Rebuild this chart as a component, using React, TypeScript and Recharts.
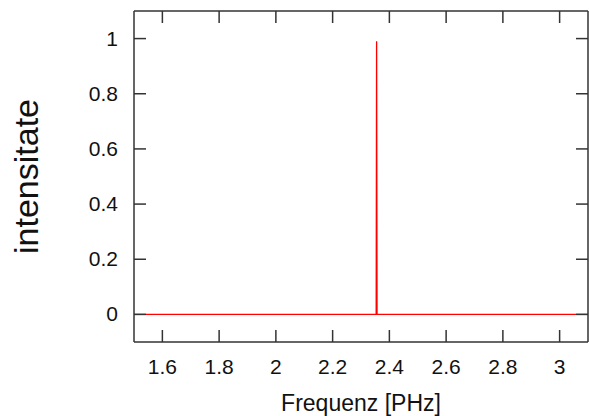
import React from "react";
import { LineChart, Line, XAxis, YAxis } from "recharts";

const frequency = [1.5, 2.3535, 2.355, 2.3565, 3.1];
const intensity = [0, 0, 0.99, 0, 0];
const xTicks = [1.6, 1.8, 2, 2.2, 2.4, 2.6, 2.8, 3];
const yTicks = [0, 0.2, 0.4, 0.6, 0.8, 1];

const data = frequency.map((f, i) => ({ f, v: intensity[i] }));

const FONT = "'Liberation Sans', Arial, Helvetica, sans-serif";
const AXIS = "#333333";
const TL = 12;

const bottomLabel = (p: any) => (
  <text key={"bl" + p.index} x={p.x} y={p.y + 31} textAnchor="middle" fontSize={21} fontFamily={FONT} fill="#111">
    {String(p.payload.value)}
  </text>
);
const leftLabel = (p: any) => (
  <text key={"ll" + p.index} x={p.x - 15} y={p.y + 7} textAnchor="end" fontSize={21} fontFamily={FONT} fill="#111">
    {String(p.payload.value)}
  </text>
);
const bottomTick = (p: any) => (
  <path key={"b" + p.index} d={`M${p.x},${p.y}V${p.y - TL}`} stroke={AXIS} strokeWidth={1.5} fill="none" />
);
const topTick = (p: any) => (
  <path key={"t" + p.index} d={`M${p.x},${p.y}V${p.y + TL}`} stroke={AXIS} strokeWidth={1.5} fill="none" />
);
const leftTick = (p: any) => (
  <path key={"l" + p.index} d={`M${p.x},${p.y}H${p.x + TL}`} stroke={AXIS} strokeWidth={1.5} fill="none" />
);
const rightTick = (p: any) => (
  <path key={"r" + p.index} d={`M${p.x},${p.y}H${p.x - TL}`} stroke={AXIS} strokeWidth={1.5} fill="none" />
);

const common = {
  type: "number" as const,
  tickSize: 0,
  tickMargin: 0,
  tickLine: false,
  interval: 0 as const,
  allowDataOverflow: true,
};

export default function App() {
  return (
    <div style={{ position: "absolute", left: 0, top: 0, background: "#fff" }}>
      <LineChart width={589} height={416} data={data} margin={{ top: 10, right: 0, left: 0, bottom: 0 }}>
        <Line
          xAxisId="b"
          yAxisId="l"
          dataKey="v"
          type="linear"
          stroke="#ff0000"
          strokeWidth={1.3}
          dot={false}
          isAnimationActive={false}
        />
        <XAxis
          {...common}
          xAxisId="b"
          dataKey="f"
          domain={[1.5, 3.1]}
          ticks={xTicks}
          height={1}
          axisLine={{ stroke: AXIS, strokeWidth: 1.5 }}
          tick={bottomTick}
        />
        <XAxis
          {...common}
          xAxisId="bl"
          dataKey="f"
          domain={[1.5, 3.1]}
          ticks={xTicks}
          height={73}
          axisLine={false}
          tick={bottomLabel}
          label={{ value: "Frequenz [PHz]", position: "insideBottom", offset: 5, fontSize: 23, fontFamily: FONT, fill: "#111" }}
        />
        <XAxis
          {...common}
          xAxisId="t"
          dataKey="f"
          orientation="top"
          domain={[1.5, 3.1]}
          ticks={xTicks}
          height={1}
          axisLine={{ stroke: AXIS, strokeWidth: 1.5 }}
          tick={topTick}
        />
        <YAxis
          {...common}
          yAxisId="l"
          domain={[-0.1, 1.1]}
          ticks={yTicks}
          width={1}
          axisLine={{ stroke: AXIS, strokeWidth: 1.5 }}
          tick={leftTick}
        />
        <YAxis
          {...common}
          yAxisId="ll"
          domain={[-0.1, 1.1]}
          ticks={yTicks}
          width={133}
          axisLine={false}
          tick={leftLabel}
          label={{ value: "intensitate", angle: -90, position: "insideLeft", offset: 26, fontSize: 34, fontFamily: FONT, fill: "#111", style: { textAnchor: "middle" } }}
        />
        <YAxis
          {...common}
          yAxisId="r"
          orientation="right"
          domain={[-0.1, 1.1]}
          ticks={yTicks}
          width={1}
          axisLine={{ stroke: AXIS, strokeWidth: 1.5 }}
          tick={rightTick}
        />
      </LineChart>
    </div>
  );
}
